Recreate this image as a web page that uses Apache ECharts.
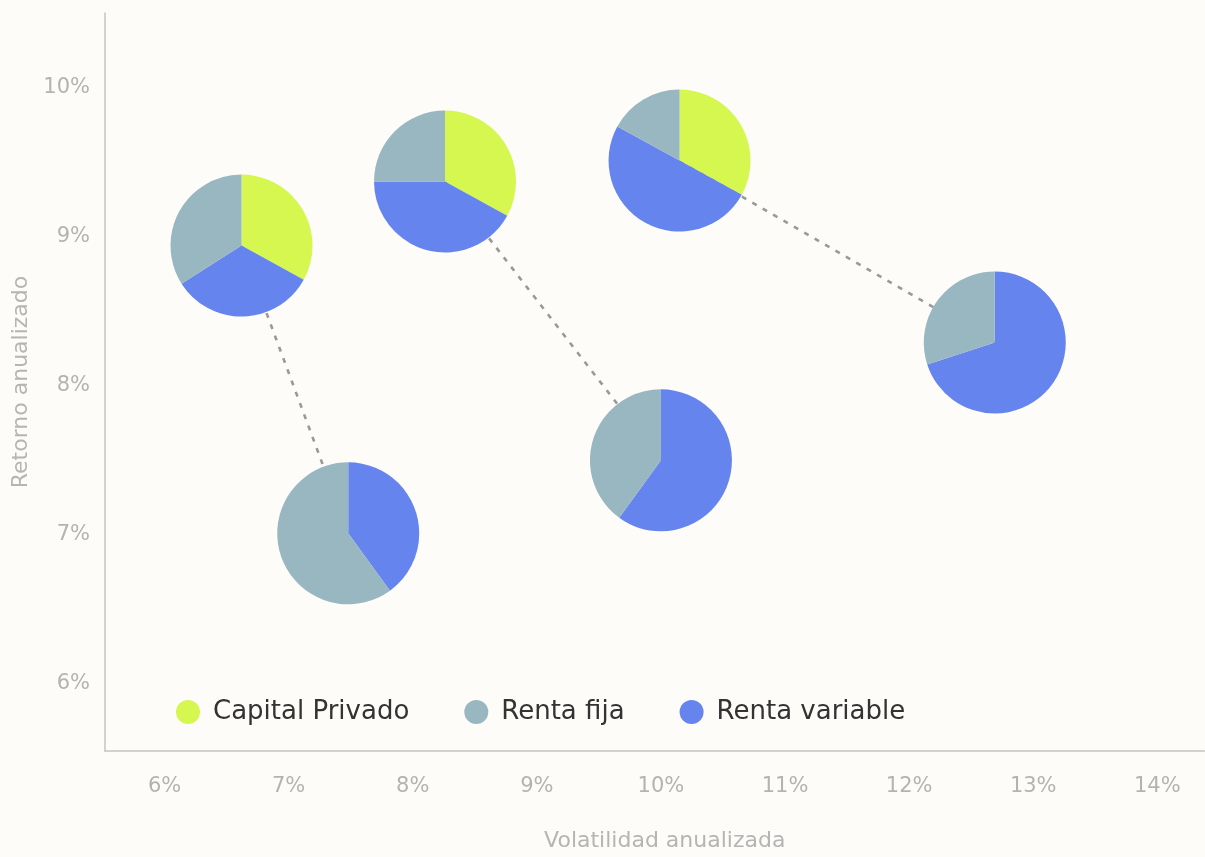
<!DOCTYPE html>
<html>
<head>
<meta charset="utf-8">
<script src="https://cdn.jsdelivr.net/npm/echarts@6/dist/echarts.min.js"></script>
<style>
  html, body { margin: 0; padding: 0; background: #fdfcf8; }
  #chart { width: 1205px; height: 857px; }
</style>
</head>
<body>
<div id="chart"></div>
<script>
// ---- Data ----
const assetNames = ['Capital Privado', 'Renta fija', 'Renta variable'];
const volatility = [6.62, 8.26, 10.15, 7.48, 10.0, 12.69];   // x (%)
const returns    = [8.94, 9.37, 9.51, 7.01, 7.5, 8.29];      // y (%)
const capitalPrivado = [33, 33, 33, 0, 0, 0];
const rentaVariable  = [33, 42, 50, 40, 60, 70];
const rentaFija      = [34, 25, 17, 60, 40, 30];
const links = [[0, 3], [1, 4], [2, 5]];
const xAxisName = 'Volatilidad anualizada';
const yAxisName = 'Retorno anualizado';

const colors = {
  'Capital Privado': '#d5f74f',
  'Renta fija': '#98b7c1',
  'Renta variable': '#6584ee'
};

const chart = echarts.init(document.getElementById('chart'));
const fontFamily = '"DejaVu Sans", "Noto Sans", sans-serif';
const isInt = v => Math.abs(v - Math.round(v)) < 1e-6;

const lineSeries = links.map(([a, b]) => ({
  type: 'line',
  data: [[volatility[a], returns[a]], [volatility[b], returns[b]]],
  symbol: 'none',
  silent: true,
  z: 1,
  lineStyle: { color: '#999999', width: 2.6, type: [5, 7] }
}));

const baseOption = {
  backgroundColor: '#fdfcf8',
  animation: false,
  textStyle: { fontFamily },
  grid: { left: 105, right: 0, top: 13, bottom: 100, containLabel: false },
  xAxis: {
    type: 'value', min: 5.52, max: 14.38, interval: 0.04,
    name: xAxisName, nameLocation: 'middle', nameGap: 79,
    nameTextStyle: { color: '#b5b5b5', fontSize: 22, fontFamily, padding: [0, 0, 0, 20] },
    axisLine: { show: true, lineStyle: { color: '#c4c4c4', width: 1.5 } },
    axisTick: { show: false },
    splitLine: { show: false },
    axisLabel: {
      color: '#b3b3b3', fontSize: 21, margin: 25, fontFamily,
      showMinLabel: false, showMaxLabel: false,
      formatter: v => isInt(v) ? Math.round(v) + '%' : ''
    }
  },
  yAxis: {
    type: 'value', min: 5.55, max: 10.5, interval: 0.05,
    name: yAxisName, nameLocation: 'middle', nameGap: 66,
    nameTextStyle: { color: '#b5b5b5', fontSize: 22, fontFamily },
    axisLine: { show: true, lineStyle: { color: '#c4c4c4', width: 1.5 } },
    axisTick: { show: false },
    splitLine: { show: false },
    axisLabel: {
      color: '#b3b3b3', fontSize: 21, margin: 15, fontFamily,
      showMinLabel: false, showMaxLabel: false,
      formatter: v => isInt(v) ? Math.round(v) + '%' : ''
    }
  },
  legend: {
    data: assetNames,
    left: 171, top: 694,
    icon: 'circle', itemWidth: 24, itemHeight: 24, itemGap: 55,
    textStyle: { color: '#333333', fontSize: 26, fontFamily, padding: [0, 0, 0, 8] },
    selectedMode: false
  },
  series: lineSeries
};
chart.setOption(baseOption);

const pieSeries = volatility.map((x, i) => {
  const center = chart.convertToPixel({ gridIndex: 0 }, [x, returns[i]]);
  const items = [
    { name: 'Capital Privado', value: capitalPrivado[i] },
    { name: 'Renta variable', value: rentaVariable[i] },
    { name: 'Renta fija', value: rentaFija[i] }
  ].filter(d => d.value > 0).map(d => ({ ...d, itemStyle: { color: colors[d.name] } }));
  return {
    type: 'pie',
    center: center,
    radius: 71,
    startAngle: 90,
    clockwise: true,
    z: 3,
    silent: true,
    label: { show: false },
    labelLine: { show: false },
    itemStyle: { borderWidth: 0 },
    data: items
  };
});

chart.setOption({ series: lineSeries.concat(pieSeries) });
</script>
</body>
</html>
